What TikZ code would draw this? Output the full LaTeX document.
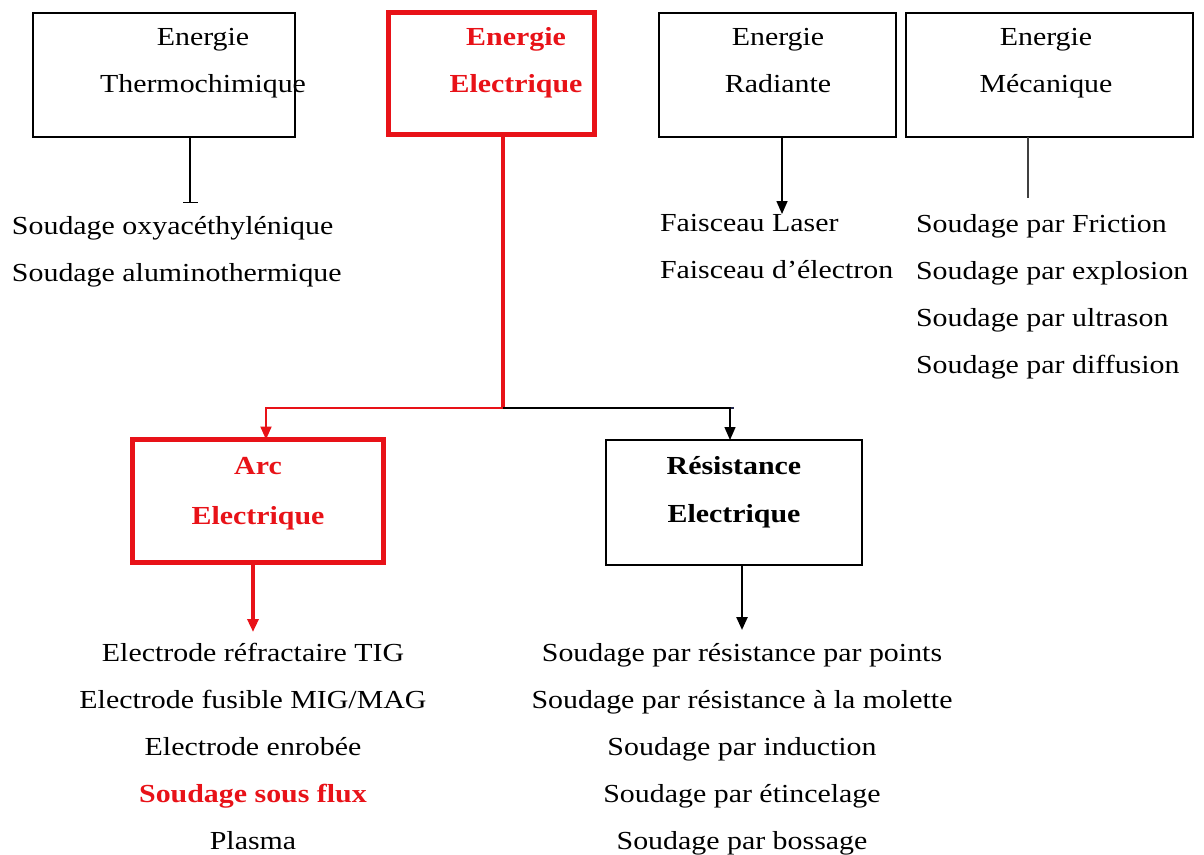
\documentclass[tikz,border=0pt]{standalone}
\usepackage{fontspec}
\setmainfont{Liberation Serif}[FakeStretch=1.15]
\usetikzlibrary{arrows.meta}
\definecolor{redc}{RGB}{232,18,24}
\definecolor{navyc}{RGB}{35,40,75}
\begin{document}
\begin{tikzpicture}[x=1pt,y=-1pt,
  every node/.style={font=\fontsize{26}{47}\selectfont, inner sep=0pt, outer sep=0pt},
  box/.style={draw, line width=1.4pt, minimum width=#1, minimum height=124pt},
  redbox/.style={draw=redc, line width=5pt, minimum width=#1, minimum height=122pt},
  title/.style={align=center, anchor=base},
  redtitle/.style={align=center, anchor=base, text=redc, font=\fontsize{26}{47}\selectfont\bfseries},
  blacktitle/.style={align=center, anchor=base, font=\fontsize{26}{48}\selectfont\bfseries},
  leftlist/.style={align=left, anchor=base west},
  midlist/.style={align=center, anchor=base},
  thinline/.style={line width=1.3pt},
  blackarrow/.style={line width=1.6pt, -{Triangle[width=11pt,length=13pt]}},
  redarrow/.style={draw=redc, line width=#1, -{Triangle[width=11pt,length=13pt]}, color=redc}
]
\useasboundingbox (0,0) rectangle (1204,854);

% top boxes
\node[box=262pt] (thermo) at (164,75) {};
\node[title] (thermoT) at (203,92) {Energie\\Thermochimique};
\node[redbox=206pt] (elec) at (491.5,73.5) {};
\node[redtitle] (elecT) at (516,92) {Energie\\Electrique};
\node[box=237pt] (rad) at (777.5,75) {};
\node[title] (radT) at (778,92) {Energie\\Radiante};
\node[box=287pt] (mec) at (1049.5,75) {};
\node[title] (mecT) at (1046,92) {Energie\\Mécanique};

% lists at top
\node[leftlist] (thermoL) at (12,281) {Soudage oxyacéthylénique\\Soudage aluminothermique};
\node[leftlist] (radL) at (660,278) {Faisceau Laser\\Faisceau d’électron};
\node[leftlist] (mecL) at (916,373) {Soudage par Friction\\Soudage par explosion\\Soudage par ultrason\\Soudage par diffusion};

% top connectors
\coordinate (thermoEnd) at (190,203);
\draw[thinline, -{Bar[width=15pt]}] (thermo.south -| thermoEnd) -- (thermoEnd);
\coordinate (radEnd) at (782,214);
\draw[blackarrow] (rad.south -| radEnd) -- (radEnd);
\coordinate (mecEnd) at (1028,198);
\draw[line width=1.8pt, black!75] (mec.south -| mecEnd) -- (mecEnd);

% lower boxes
\node[redbox=251pt, minimum height=123pt] (arc) at (258,501) {};
\node[redtitle, font=\fontsize{26}{50}\selectfont\bfseries] (arcT) at (258,524) {Arc\\Electrique};
\node[box=256pt, minimum height=125pt] (res) at (734,502.5) {};
\node[blacktitle] (resT) at (734,522) {Résistance\\Electrique};

% split
\coordinate (split) at (503,408);
\draw[redc, line width=3.5pt] (elec.south -| split) -- (split);
\draw[redarrow=2pt] (split) -| ([xshift=8pt]arc.north);
\draw[navyc, line width=1.5pt] (split) -- (split -| res.north);
\draw[blackarrow, line width=1.4pt] (split) -| ([xshift=-4pt]res.north);

% lower lists
\node[midlist] (arcL) at (253,849) {Electrode réfractaire TIG\\Electrode fusible MIG/MAG\\Electrode enrobée\\\textcolor{redc}{\bfseries Soudage sous flux}\\Plasma};
\node[midlist] (resL) at (742,849) {Soudage par résistance par points\\Soudage par résistance à la molette\\Soudage par induction\\Soudage par étincelage\\Soudage par bossage};

\coordinate (arcEnd) at (253,632);
\draw[redarrow=3.5pt] (arc.south -| arcEnd) -- (arcEnd);
\coordinate (resEnd) at (742,630);
\draw[blackarrow, line width=2.4pt] (res.south -| resEnd) -- (resEnd);
\end{tikzpicture}
\end{document}
